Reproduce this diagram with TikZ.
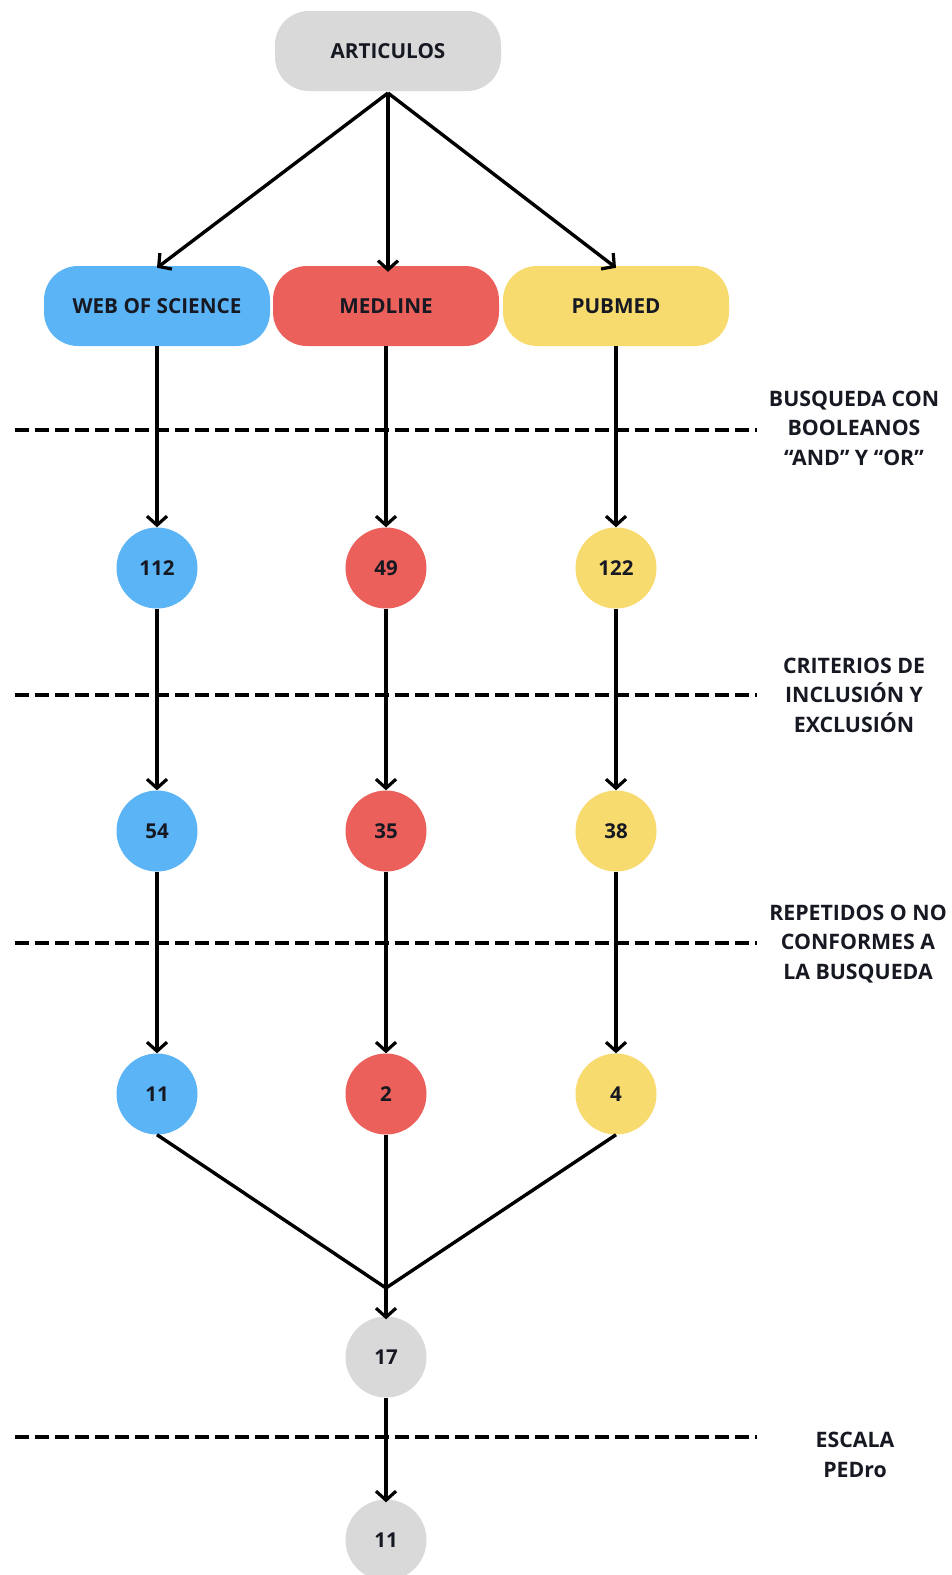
\documentclass[tikz,border=0pt]{standalone}
\usepackage{fontspec}
\setmainfont{Open Sans}
\usetikzlibrary{arrows.meta}
\definecolor{cgray}{RGB}{217,217,217}
\definecolor{cblue}{RGB}{90,180,245}
\definecolor{cred}{RGB}{235,96,90}
\definecolor{cyellow}{RGB}{247,219,110}
\definecolor{ctext}{RGB}{22,24,34}
\tikzset{
  pill/.style={minimum width=226pt,minimum height=80pt,rounded corners=34pt,inner sep=0pt,
    font=\fontsize{20.7}{24}\selectfont\bfseries,text=ctext},
  numc/.style={circle,minimum size=81pt,inner sep=0pt,font=\fontsize{20.5}{24}\selectfont\bfseries,text=ctext},
  conn/.style={line width=3.4pt,draw=black,-{Straight Barb[length=9pt,width=20pt,line width=3.2pt]}},
  plain/.style={line width=3.4pt,draw=black},
  sep/.style={line width=3.6pt,draw=black,dash pattern=on 14pt off 6pt},
  steplabel/.style={align=center,font=\fontsize{21.3}{29.5}\selectfont\bfseries,text=ctext}
}
\begin{document}
\begin{tikzpicture}[x=1pt,y=-1pt]
\useasboundingbox (0,0) rectangle (952,1575);
\fill[white] (0,0) rectangle (952,1575);
% separators
\draw[sep] (15,430) -- (757,430);
\draw[sep] (15,695) -- (757,695);
\draw[sep] (15,943) -- (757,943);
\draw[sep] (15,1437) -- (757,1437);
% nodes
\node[pill,fill=cgray] (art) at (388,51) {ARTICULOS};
\node[pill,fill=cblue] (wos) at (157,306) {WEB OF SCIENCE};
\node[pill,fill=cred] (med) at (386,306) {MEDLINE};
\node[pill,fill=cyellow] (pub) at (616,306) {PUBMED};
\node[numc,fill=cblue] (w1) at (157,568) {112};
\node[numc,fill=cred] (m1) at (386,568) {49};
\node[numc,fill=cyellow] (p1) at (616,568) {122};
\node[numc,fill=cblue] (w2) at (157,831) {54};
\node[numc,fill=cred] (m2) at (386,831) {35};
\node[numc,fill=cyellow] (p2) at (616,831) {38};
\node[numc,fill=cblue] (w3) at (157,1094) {11};
\node[numc,fill=cred] (m3) at (386,1094) {2};
\node[numc,fill=cyellow] (p3) at (616,1094) {4};
\node[numc,fill=cgray] (t1) at (386,1357) {17};
\node[numc,fill=cgray] (t2) at (386,1540) {11};
% labels
\node[steplabel] (l1) at (854,428) {BUSQUEDA CON\\BOOLEANOS\\“AND” Y “OR”};
\node[steplabel] (l2) at (854,695) {CRITERIOS DE\\INCLUSIÓN Y\\EXCLUSIÓN};
\node[steplabel] (l3) at (858,944) {REPETIDOS O NO\\CONFORMES A\\LA BUSQUEDA};
\node[steplabel] (l4) at (855,1455) {ESCALA\\PEDro};
% connectors
\coordinate (top) at (388,93);
\draw[conn] (top) -- ([yshift=-2pt]wos.north);
\draw[conn] (top) -- ([yshift=-6pt]top |- med.north);
\draw[conn] (top) -- ([yshift=-2pt]pub.north);
\draw[conn] (wos.south) -- (w1.north);
\draw[conn] (med.south) -- (m1.north);
\draw[conn] (pub.south) -- (p1.north);
\draw[conn] (w1.south) -- (w2.north);
\draw[conn] (m1.south) -- (m2.north);
\draw[conn] (p1.south) -- (p2.north);
\draw[conn] (w2.south) -- (w3.north);
\draw[conn] (m2.south) -- (m3.north);
\draw[conn] (p2.south) -- (p3.north);
\coordinate (join) at (386,1288);
\draw[plain] (w3.south) -- (join);
\draw[plain] (p3.south) -- (join);
\draw[conn] (m3.south) -- ([yshift=-3pt]t1.north);
\draw[conn] (t1.south) -- ([yshift=-3pt]t2.north);
\end{tikzpicture}
\end{document}
